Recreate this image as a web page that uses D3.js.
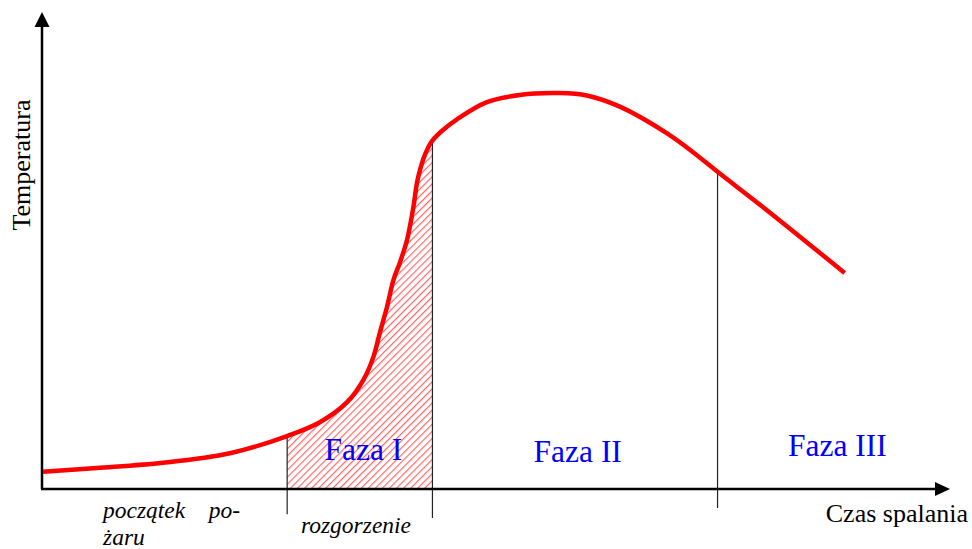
<!DOCTYPE html>
<html>
<head>
<meta charset="utf-8">
<script src="https://cdn.jsdelivr.net/npm/d3@7"></script>
<style>
  html, body { margin: 0; padding: 0; background: #fff; }
  svg { display: block; }
</style>
</head>
<body>
<svg id="chart" width="972" height="549"></svg>
<script>
// ---- data (arbitrary units: time 0-100, temperature 0-100) ----
const curveTime = [0.1, 6.0, 13.3, 20.7, 27.0, 30.6, 33.6, 35.4, 36.5, 37.2, 38.0, 38.7, 39.4, 40.2, 40.9, 41.3, 41.7, 42.2, 42.9, 44.0, 45.7, 49.0, 52.6, 57.0, 60.0, 63.7, 68.8, 71.7, 74.4, 79.8, 88.4];
const curveTemp = [3.6, 4.4, 5.5, 7.5, 11.1, 14.0, 18.2, 22.9, 27.7, 32.7, 38.2, 43.8, 47.4, 52.2, 59.1, 64.2, 67.4, 70.2, 72.8, 75.0, 77.5, 81.1, 82.6, 83.0, 82.5, 80.1, 74.6, 70.6, 66.5, 58.5, 45.3];
const phaseBounds = [27.0, 43.0, 74.4];       // boundaries between phases (time)
const phaseBoundTop = [11.1, 72.9, 66.5];     // temperature where boundary meets the curve
const phaseBoundBottom = [-5.3, -6.1, -4.0];  // tick extent below the time axis
const phaseLabels = ["Faza I", "Faza II", "Faza III"];
const phaseLabelTime = [35.4, 59.0, 87.6];
const phaseLabelTemp = [6.1, 5.7, 7.0];
const xAxisTitle = "Czas spalania";
const yAxisTitle = "Temperatura";

const svg = d3.select("#chart");
const x = d3.scaleLinear().domain([0, 100]).range([42, 950]);
const y = d3.scaleLinear().domain([0, 100]).range([489, 12]);

const pts = curveTime.map((t, i) => [t, curveTemp[i]]);

// hatch pattern
const defs = svg.append("defs");
const pat = defs.append("pattern")
  .attr("id", "hatch").attr("patternUnits", "userSpaceOnUse")
  .attr("width", 5).attr("height", 5)
  .attr("patternTransform", "rotate(45)");
pat.append("rect").attr("width", 5).attr("height", 5).attr("fill", "#fff");
pat.append("line").attr("x1", 0).attr("y1", 0).attr("x2", 0).attr("y2", 5)
  .attr("stroke", "#f66").attr("stroke-width", 2.4);

defs.append("clipPath").attr("id", "phase1clip")
  .append("rect")
  .attr("x", x(phaseBounds[0])).attr("y", 0)
  .attr("width", x(phaseBounds[1]) - x(phaseBounds[0])).attr("height", y(0));

const curveGen = d3.curveCatmullRom.alpha(0.5);

// hatched area under the curve in phase I
svg.append("path")
  .datum(pts)
  .attr("clip-path", "url(#phase1clip)")
  .attr("fill", "url(#hatch)")
  .attr("d", d3.area().x(d => x(d[0])).y0(y(0)).y1(d => y(d[1])).curve(curveGen));

// phase boundary lines
svg.append("g").selectAll("line").data(phaseBounds).join("line")
  .attr("x1", d => x(d)).attr("x2", d => x(d))
  .attr("y1", (d, i) => y(phaseBoundTop[i]))
  .attr("y2", (d, i) => y(phaseBoundBottom[i]))
  .attr("stroke", "#222").attr("stroke-width", 1.2);

// axes with arrows
const axisG = svg.append("g");
axisG.append("line")
  .attr("x1", x(0)).attr("y1", y(0)).attr("x2", x(0)).attr("y2", y(100) + 12)
  .attr("stroke", "#000").attr("stroke-width", 2.5);
axisG.append("line")
  .attr("x1", x(0) - 1).attr("y1", y(0)).attr("x2", x(100) - 12).attr("y2", y(0))
  .attr("stroke", "#000").attr("stroke-width", 2.5);
axisG.append("path")
  .attr("d", `M${x(0)},${y(100)} L${x(0) - 7.5},${y(100) + 15} L${x(0) + 7.5},${y(100) + 15} Z`)
  .attr("fill", "#000");
axisG.append("path")
  .attr("d", `M${x(100)},${y(0)} L${x(100) - 15},${y(0) - 7} L${x(100) - 15},${y(0) + 7} Z`)
  .attr("fill", "#000");

// temperature curve
svg.append("path")
  .datum(pts)
  .attr("fill", "none")
  .attr("stroke", "#ff0000")
  .attr("stroke-width", 4.5)
  .attr("stroke-linecap", "butt")
  .attr("stroke-linejoin", "round")
  .attr("d", d3.line().x(d => x(d[0])).y(d => y(d[1])).curve(curveGen));

// phase labels
svg.append("g").selectAll("text").data(phaseLabels).join("text")
  .attr("x", (d, i) => x(phaseLabelTime[i]))
  .attr("y", (d, i) => y(phaseLabelTemp[i]))
  .attr("text-anchor", "middle")
  .attr("font-family", "'Liberation Serif', 'Times New Roman', serif")
  .attr("font-size", 31.5)
  .attr("fill", "#0000ff")
  .text(d => d);

// axis titles
svg.append("text")
  .attr("x", 968).attr("y", 522)
  .attr("text-anchor", "end")
  .attr("font-family", "'Liberation Serif', 'Times New Roman', serif")
  .attr("font-size", 26)
  .attr("fill", "#000")
  .text(xAxisTitle);

svg.append("text")
  .attr("transform", "translate(30,165) rotate(-90)")
  .attr("text-anchor", "middle")
  .attr("font-family", "'Liberation Serif', 'Times New Roman', serif")
  .attr("font-size", 26)
  .attr("fill", "#000")
  .text(yAxisTitle);

// phase descriptions below axis
const it = { family: "'Liberation Serif', 'Times New Roman', serif", size: 23.5 };
function itText(tx, ty, s, anchor) {
  svg.append("text")
    .attr("x", tx).attr("y", ty)
    .attr("text-anchor", anchor || "start")
    .attr("font-family", it.family)
    .attr("font-style", "italic")
    .attr("font-size", it.size)
    .attr("fill", "#000")
    .text(s);
}
itText(103, 518, "początek");
itText(240, 518, "po-", "end");
itText(103, 545, "żaru");
itText(356, 533, "rozgorzenie", "middle");
</script>
</body>
</html>
